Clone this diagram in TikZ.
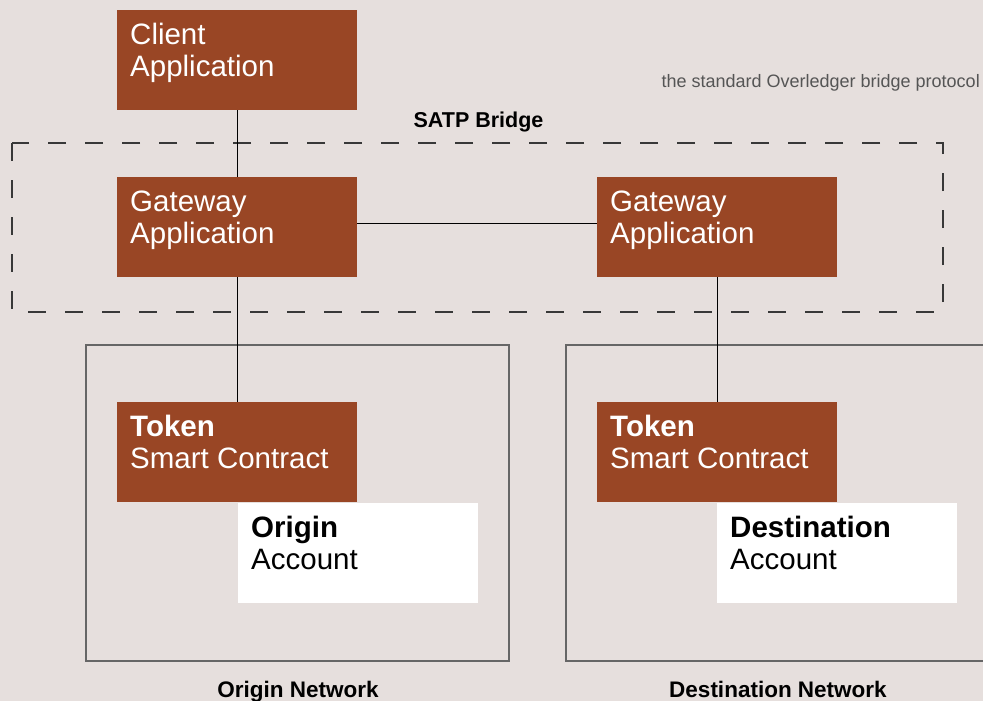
\documentclass[tikz,border=0pt]{standalone}
\usepackage{fontspec}
\setmainfont{Liberation Sans}
\definecolor{bg}{HTML}{E6DFDD}
\definecolor{rust}{HTML}{994625}
\definecolor{dashc}{HTML}{383838}
\definecolor{netc}{HTML}{666666}
\definecolor{notec}{HTML}{555555}
\newcommand{\twolines}[2]{\parbox[c][100pt][t]{214pt}{\fontsize{29.5pt}{32pt}\selectfont\rule{0pt}{34pt}#1\\#2}}
\begin{document}
\begin{tikzpicture}[x=1pt,y=-1pt,
  rustbox/.style={fill=rust,text=white,inner xsep=13pt,inner ysep=0pt,anchor=north west},
  whitebox/.style={fill=white,text=black,inner xsep=13pt,inner ysep=0pt,anchor=north west},
  link/.style={draw=black,line width=1pt},
  netbox/.style={draw=netc,line width=1.5pt},
  bridge/.style={draw=dashc,line width=2pt,dash pattern=on 18pt off 19pt},
  caption/.style={font=\bfseries\fontsize{22.5pt}{24pt}\selectfont,anchor=base,inner sep=0pt}]
\fill[bg] (0,0) rectangle (983,701);
\useasboundingbox (0,0) rectangle (983,701);
\clip (0,0) rectangle (983,701);
% networks
\draw[netbox] (86,345) rectangle (509,661);
\draw[netbox] (566,345) rectangle (995,661);
% bridge
\draw[bridge] (12,143) rectangle (943,312);
% boxes
\node[rustbox] (client) at (117,10) {\twolines{Client}{Application}};
\node[rustbox] (gwl) at (117,177) {\twolines{Gateway}{Application}};
\node[rustbox] (gwr) at (597,177) {\twolines{Gateway}{Application}};
\node[rustbox] (tokl) at (117,402) {\twolines{\textbf{Token}}{Smart Contract}};
\node[rustbox] (tokr) at (597,402) {\twolines{\textbf{Token}}{Smart Contract}};
\node[whitebox] (accl) at (238,503) {\twolines{\textbf{Origin}}{Account}};
\node[whitebox] (accr) at (717,503) {\twolines{\textbf{Destination}}{Account}};
% connectors
\draw[link] (client.south) -- (gwl.north);
\draw[link] (gwl.south) -- (tokl.north);
\draw[link] (gwr.south) -- (tokr.north);
\draw[link] ([yshift=4pt]gwl.east) -- ([yshift=4pt]gwr.west);
% labels
\node[caption,font=\bfseries\fontsize{21.5pt}{24pt}\selectfont] (satp) at (478.5,127) {SATP Bridge};
\node[caption] (onet) at (298,697) {Origin Network};
\node[caption] (dnet) at (778,697) {Destination Network};
\node[anchor=base east,inner sep=0pt,text=notec,font=\fontsize{18pt}{20pt}\selectfont] (note) at (980,88) {the standard Overledger bridge protocol};
\end{tikzpicture}
\end{document}
